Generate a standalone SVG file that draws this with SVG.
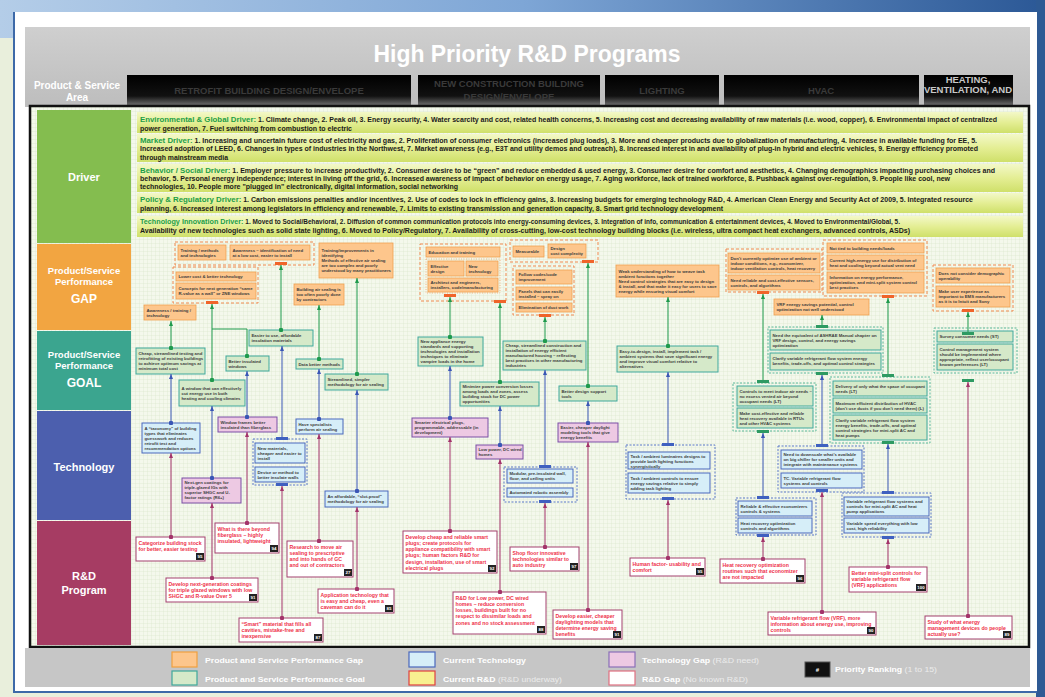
<svg xmlns="http://www.w3.org/2000/svg" width="1045" height="697" viewBox="0 0 1045 697">
<defs>
<style>
.n{font-family:"Liberation Sans",Arial,sans-serif;font-weight:bold;font-size:4.3px;fill:#3d3d3d}
.rt{font-family:"Liberation Sans",Arial,sans-serif;font-weight:bold;font-size:5.2px;fill:#ee3049}
.bt{font-family:"Liberation Sans",Arial,sans-serif;font-weight:bold;font-size:4.4px;fill:#fff;text-anchor:middle}
.dv{font-family:"Liberation Sans",Arial,sans-serif;font-weight:bold;font-size:6.8px;fill:#1a1a1a}
.dl{fill:#1d9e47;font-size:7.6px}
.lab{font-family:"Liberation Sans",Arial,sans-serif;font-weight:bold;fill:#fff;text-anchor:middle}
.hd{font-family:"Liberation Sans",Arial,sans-serif;font-weight:bold;font-size:9.5px;fill:#3a3a3a;text-anchor:middle}
.lg{font-family:"Liberation Sans",Arial,sans-serif;font-weight:bold;font-size:7.6px;fill:#fff}
.lgl{font-weight:normal;fill:#ececec}
.o{fill:#fdc68c;stroke:#f0a050;stroke-width:.8}
.g{fill:#d5e9c9;stroke:#3fa89c;stroke-width:1}
.t{fill:#d6eef8;stroke:#4a68bd;stroke-width:1}
.p{fill:#edc9e3;stroke:#7a4fa5;stroke-width:1}
.r{fill:#fff;stroke:#a3406e;stroke-width:1}
.og{fill:none;stroke:#f08a50;stroke-width:1;stroke-dasharray:3 2}
.oi{fill:none;stroke:#f4a870;stroke-width:.8;stroke-dasharray:1 1.5}
.gg{fill:none;stroke:#5ab89a;stroke-width:1;stroke-dasharray:2 1.5}
.bg{fill:none;stroke:#5a78c8;stroke-width:1;stroke-dasharray:2 1.5}
.ob{fill:#f0642a}
.gb{fill:#2e9a62}
.bb{fill:#3f60c0}
.badge{fill:#222}
.cg{fill:none;stroke:#1f9a4c;stroke-width:1;marker-start:url(#dG);marker-end:url(#aG)}
.cgn{fill:none;stroke:#1f9a4c;stroke-width:1;marker-end:url(#aG)}
.cgd{fill:none;stroke:#1f9a4c;stroke-width:1;marker-start:url(#dG)}
.cb{fill:none;stroke:#3a56b5;stroke-width:1;marker-start:url(#dB);marker-end:url(#aB)}
.cbn{fill:none;stroke:#3a56b5;stroke-width:1;marker-end:url(#aB)}
.cm{fill:none;stroke:#a3336a;stroke-width:1;marker-start:url(#dM);marker-end:url(#aM)}
</style>
<pattern id="grid" width="4" height="4" patternUnits="userSpaceOnUse"><rect width="4" height="4" fill="#f4f8ec"/><path d="M4 0V4M0 4H4" stroke="#d9e6c6" stroke-width="0.6"/></pattern>
<linearGradient id="topb" x1="0" x2="1" y1="0" y2="0"><stop offset="0" stop-color="#b4cde8"/><stop offset="0.5" stop-color="#7ea6d6"/><stop offset="1" stop-color="#2b5896"/></linearGradient>
<linearGradient id="cell" x1="0" x2="0" y1="0" y2="1"><stop offset="0" stop-color="#000"/><stop offset="0.7" stop-color="#111"/><stop offset="1" stop-color="#6a6a6a"/></linearGradient>
<linearGradient id="band" x1="0" x2="0" y1="0" y2="1"><stop offset="0" stop-color="#f3f8c8"/><stop offset="0.5" stop-color="#e4ee94"/><stop offset="1" stop-color="#cfe06a"/></linearGradient>
<linearGradient id="hdr" x1="0" x2="0" y1="0" y2="1"><stop offset="0" stop-color="#cfcfcf"/><stop offset="1" stop-color="#bdbdbd"/></linearGradient>
<marker id="aG" viewBox="0 0 10 8" refX="10" refY="4" markerWidth="5" markerHeight="4" orient="auto" markerUnits="userSpaceOnUse"><path d="M0,0L10,4L0,8z" fill="#1f9a4c"/></marker>
<marker id="aB" viewBox="0 0 10 8" refX="10" refY="4" markerWidth="5" markerHeight="4" orient="auto" markerUnits="userSpaceOnUse"><path d="M0,0L10,4L0,8z" fill="#3a56b5"/></marker>
<marker id="aM" viewBox="0 0 10 8" refX="10" refY="4" markerWidth="5" markerHeight="4" orient="auto" markerUnits="userSpaceOnUse"><path d="M0,0L10,4L0,8z" fill="#a3336a"/></marker>
<marker id="dG" viewBox="0 0 6 6" refX="3" refY="3" markerWidth="4.4" markerHeight="4.4" markerUnits="userSpaceOnUse"><circle cx="3" cy="3" r="3" fill="#1f9a4c"/></marker>
<marker id="dB" viewBox="0 0 6 6" refX="3" refY="3" markerWidth="4.4" markerHeight="4.4" markerUnits="userSpaceOnUse"><circle cx="3" cy="3" r="3" fill="#3a56b5"/></marker>
<marker id="dM" viewBox="0 0 6 6" refX="3" refY="3" markerWidth="4.4" markerHeight="4.4" markerUnits="userSpaceOnUse"><circle cx="3" cy="3" r="3" fill="#a3336a"/></marker>
</defs>

<!-- page background -->
<rect width="1045" height="697" fill="#e9efdc"/>
<rect x="0" y="0" width="1045" height="38" fill="url(#topb)"/>
<rect x="1036" y="0" width="9" height="697" fill="#2e5a94"/>
<rect x="14" y="12" width="1023" height="680" fill="#fff"/>
<path d="M14,12V692H1037" fill="none" stroke="#3d69a8" stroke-width="2"/>

<!-- header -->
<g id="header">
<rect x="25" y="27" width="1005" height="80" fill="url(#hdr)"/>
<text class="lab" x="527" y="62" font-size="23" textLength="307" lengthAdjust="spacingAndGlyphs">High Priority R&amp;D Programs</text>
<text class="lab" x="77" y="88.5" font-size="10">Product &amp; Service</text>
<text class="lab" x="77" y="101" font-size="10">Area</text>
<rect x="127" y="75" width="284" height="30" fill="url(#cell)"/>
<rect x="418" y="75" width="182" height="30" fill="url(#cell)"/>
<rect x="605" y="75" width="114" height="30" fill="url(#cell)"/>
<rect x="724" y="75" width="195" height="30" fill="url(#cell)"/>
<rect x="924" y="75" width="89" height="30" fill="url(#cell)"/>
<text class="hd" x="269" y="94">RETROFIT BUILDING DESIGN/ENVELOPE</text>
<text class="hd" x="509" y="87">NEW CONSTRUCTION BUILDING</text>
<text class="hd" x="509" y="100">DESIGN/ENVELOPE</text>
<text class="hd" x="662" y="94">LIGHTING</text>
<text class="hd" x="821" y="94">HVAC</text>
<text class="hd" x="968" y="83" style="fill:#c8c8c8" font-size="8.5">HEATING,</text>
<text class="hd" x="968" y="93" style="fill:#c8c8c8" font-size="8.5">VENTILATION, AND</text>
</g>

<!-- main frame -->
<rect x="30" y="106" width="999" height="541" fill="url(#grid)" stroke="#111" stroke-width="2.5"/>

<!-- row labels -->
<g id="row-driver"><rect x="37" y="110" width="94" height="133" fill="#84bd4f"/><text class="lab" x="84" y="181" font-size="11">Driver</text></g>
<g id="row-gap"><rect x="37" y="244" width="94" height="86" fill="#f2a541"/><text class="lab" x="84" y="273.5" font-size="9.5">Product/Service</text><text class="lab" x="84" y="284.5" font-size="9.5">Performance</text><text class="lab" x="84" y="302.5" font-size="12">GAP</text></g>
<g id="row-goal"><rect x="37" y="331" width="94" height="79" fill="#3ba58f"/><text class="lab" x="84" y="358" font-size="9.5">Product/Service</text><text class="lab" x="84" y="369" font-size="9.5">Performance</text><text class="lab" x="84" y="387" font-size="12">GOAL</text></g>
<g id="row-tech"><rect x="37" y="411" width="94" height="109" fill="#4c5fae"/><text class="lab" x="84" y="471" font-size="11">Technology</text></g>
<g id="row-rd"><rect x="37" y="521" width="94" height="124" fill="#a63c63"/><text class="lab" x="84" y="580" font-size="11">R&amp;D</text><text class="lab" x="84" y="594" font-size="11">Program</text></g>

<!-- drivers -->
<g id="driver-env"><rect x="137" y="112" width="886" height="21" fill="url(#band)"/>
<text class="dv" x="140" y="121.5" textLength="857" lengthAdjust="spacingAndGlyphs"><tspan class="dl">Environmental &amp; Global Driver:</tspan> 1. Climate change, 2. Peak oil, 3. Energy security, 4. Water scarcity and cost, related health concerns, 5. Increasing cost and decreasing availability of raw materials (i.e. wood, copper), 6. Environmental impact of centralized</text>
<text class="dv" x="140" y="130.8" textLength="212" lengthAdjust="spacingAndGlyphs">power generation, 7. Fuel switching from combustion to electric</text></g>
<g id="driver-market"><rect x="137" y="134" width="886" height="28" fill="url(#band)"/>
<text class="dv" x="140" y="142.5" textLength="837" lengthAdjust="spacingAndGlyphs"><tspan class="dl">Market Driver:</tspan> 1. Increasing and uncertain future cost of electricity and gas, 2. Proliferation of consumer electronics (increased plug loads), 3. More and cheaper products due to globalization of manufacturing, 4. Increase in available funding for EE, 5.</text>
<text class="dv" x="140" y="150.8" textLength="838" lengthAdjust="spacingAndGlyphs">Increased adoption of LEED, 6. Changes in types of industries in the Northwest, 7. Market awareness (e.g., E3T and utility demos and outreach), 8. Increased interest in and availability of plug-in hybrid and electric vehicles, 9. Energy efficiency promoted</text>
<text class="dv" x="140" y="159.6" textLength="88" lengthAdjust="spacingAndGlyphs">through mainstream media</text></g>
<g id="driver-behavior"><rect x="137" y="164" width="886" height="28" fill="url(#band)"/>
<text class="dv" x="140" y="172.8" textLength="855" lengthAdjust="spacingAndGlyphs"><tspan class="dl">Behavior / Social Driver:</tspan> 1. Employer pressure to increase productivity, 2. Consumer desire to be “green” and reduce embedded &amp; used energy, 3. Consumer desire for comfort and aesthetics, 4. Changing demographics impacting purchasing choices and</text>
<text class="dv" x="140" y="180.8" textLength="810" lengthAdjust="spacingAndGlyphs">behavior, 5. Personal energy independence; interest in living off the grid, 6. Increased awareness of impact of behavior on energy usage, 7. Aging workforce, lack of trained workforce, 8. Pushback against over-regulation, 9. People like cool, new</text>
<text class="dv" x="140" y="189" textLength="318" lengthAdjust="spacingAndGlyphs">technologies, 10. People more "plugged in" electronically, digital information, social networking</text></g>
<g id="driver-policy"><rect x="137" y="193" width="886" height="20" fill="url(#band)"/>
<text class="dv" x="140" y="202.2" textLength="833" lengthAdjust="spacingAndGlyphs"><tspan class="dl">Policy &amp; Regulatory Driver:</tspan> 1. Carbon emissions penalties and/or incentives, 2. Use of codes to lock in efficiency gains, 3. Increasing budgets for emerging technology R&amp;D, 4. American Clean Energy and Security Act of 2009, 5. Integrated resource</text>
<text class="dv" x="140" y="210.8" textLength="583" lengthAdjust="spacingAndGlyphs">planning, 6. Increased interest among legislators in efficiency and renewable, 7. Limits to existing transmission and generation capacity, 8. Smart grid technology development</text></g>
<g id="driver-tech"><rect x="137" y="216" width="886" height="21" fill="url(#band)"/>
<text class="dv" x="140" y="224.3" textLength="760" lengthAdjust="spacingAndGlyphs"><tspan class="dl">Technology Innovation Driver:</tspan> 1. Moved to Social/Behavioral, 2. Diffusion of common communication protocols into energy-consuming devices, 3. Integration of info, communication &amp; entertainment devices, 4. Moved to Environmental/Global, 5.</text>
<text class="dv" x="140" y="233.3" textLength="770" lengthAdjust="spacingAndGlyphs">Availability of new technologies such as solid state lighting, 6. Moved to Policy/Regulatory, 7. Availability of cross-cutting, low-cost technology building blocks (i.e. wireless, ultra compact heat exchangers, advanced controls, ASDs)</text></g>

<!-- GAP groups -->
<g id="grp-gap-1"><rect class="og" x="175" y="242" width="139" height="23"/>
<g id="gap1"><rect class="o" x="178" y="245" width="48" height="15"/><text class="n"><tspan x="180.5" y="251.5">Training / methods</tspan><tspan x="180.5" y="256.5">and technologies</tspan></text></g>
<g id="gap2"><rect class="o" x="230" y="245" width="80" height="15"/><text class="n"><tspan x="232.5" y="251.5">Awareness – identification of need</tspan><tspan x="232.5" y="256.5">at a low cost, easier to install</tspan></text></g>
<rect class="ob" x="275" y="262" width="12" height="3"/></g>
<g id="grp-gap-2"><rect class="og" x="173" y="267" width="85" height="36"/>
<g id="gap3"><rect class="o" x="176" y="272" width="80" height="9"/><text class="n"><tspan x="178.5" y="278">Lower cost &amp; better technology</tspan></text></g>
<g id="gap4"><rect class="o" x="176" y="283" width="80" height="16"/><text class="n"><tspan x="178.5" y="290">Concepts for next generation “same</tspan><tspan x="178.5" y="295">R-value as a wall” or ZNE windows</tspan></text></g>
<rect class="ob" x="206" y="301" width="12" height="3"/></g>
<g id="gap5"><rect class="o" x="144" y="305" width="52" height="15"/><text class="n"><tspan x="146.5" y="311.5">Awareness / training /</tspan><tspan x="146.5" y="316.5">technology</tspan></text></g>
<g id="gap6"><rect class="o" x="319" y="243" width="74" height="35"/><text class="n"><tspan x="321.5" y="252">Training/improvements in</tspan><tspan x="321.5" y="257">identifying</tspan><tspan x="321.5" y="262">Methods of effective air sealing</tspan><tspan x="321.5" y="267">are too complex and poorly</tspan><tspan x="321.5" y="272">understood by many practitioners</tspan></text></g>
<g id="gap7"><rect class="o" x="294" y="284" width="50" height="21"/><text class="n"><tspan x="296.5" y="291">Building air sealing is</tspan><tspan x="296.5" y="296">too often poorly done</tspan><tspan x="296.5" y="301">by contractors</tspan></text></g>
<g id="grp-gap-3"><rect class="og" x="420" y="244" width="86" height="57"/><rect class="oi" x="426" y="259" width="74" height="34"/>
<g id="gap8"><rect class="o" x="426" y="247" width="74" height="10"/><text class="n"><tspan x="428.5" y="253.5">Education and training</tspan></text></g>
<g id="gap9"><rect class="o" x="428" y="261" width="36" height="15"/><text class="n"><tspan x="430.5" y="267.5">Effective</tspan><tspan x="430.5" y="272.5">design</tspan></text></g>
<g id="gap10"><rect class="o" x="466" y="261" width="32" height="15"/><text class="n"><tspan x="468.5" y="267.5">New</tspan><tspan x="468.5" y="272.5">technology</tspan></text></g>
<g id="gap11"><rect class="o" x="428" y="278" width="70" height="14"/><text class="n"><tspan x="430.5" y="284">Architect and engineers,</tspan><tspan x="430.5" y="289">installers, code/manufacturing</tspan></text></g>
<rect class="ob" x="444" y="294" width="12" height="3"/><rect class="ob" x="494" y="300" width="12" height="3"/></g>
<g id="grp-gap-4"><rect class="og" x="510" y="240" width="88" height="22"/>
<g id="gap12"><rect class="o" x="513" y="246" width="31" height="11"/><text class="n"><tspan x="515.5" y="253">Measurable</tspan></text></g>
<g id="gap13"><rect class="o" x="548" y="244" width="38" height="14"/><text class="n"><tspan x="550.5" y="250">Design</tspan><tspan x="550.5" y="255">cost complexity</tspan></text></g>
<rect class="ob" x="582" y="260" width="12" height="3"/></g>
<g id="grp-gap-5"><rect class="og" x="513" y="266" width="61" height="49"/>
<g id="gap14"><rect class="o" x="516" y="270" width="56" height="14"/><text class="n"><tspan x="518.5" y="276">Follow codes/code</tspan><tspan x="518.5" y="281">improvement</tspan></text></g>
<g id="gap15"><rect class="o" x="516" y="287" width="56" height="13"/><text class="n"><tspan x="518.5" y="292.5">Panels that can easily</tspan><tspan x="518.5" y="297.5">installed – spray on</tspan></text></g>
<g id="gap16"><rect class="o" x="516" y="303" width="56" height="9"/><text class="n"><tspan x="518.5" y="309">Elimination of duct work</tspan></text></g>
<rect class="ob" x="539" y="314" width="12" height="3"/></g>
<g id="gap17"><rect class="o" x="616" y="265" width="103" height="32"/><text class="n"><tspan x="618.5" y="272.5">Weak understanding of how to weave task</tspan><tspan x="618.5" y="277.5">ambient functions together</tspan><tspan x="618.5" y="282.5">Need control strategies that are easy to design</tspan><tspan x="618.5" y="287.5">&amp; install, and that make it easy for users to save</tspan><tspan x="618.5" y="292.5">energy while ensuring visual comfort</tspan></text></g>
<g id="grp-gap-6"><rect class="og" x="726" y="249" width="96" height="43"/>
<g id="gap18"><rect class="o" x="728" y="253" width="92" height="20"/><text class="n"><tspan x="730.5" y="259.5">Don’t currently optimize use of ambient or</tspan><tspan x="730.5" y="264.5">indoor conditions, e.g., economizer,</tspan><tspan x="730.5" y="269.5">indoor ventilation controls, heat recovery</tspan></text></g>
<g id="gap19"><rect class="o" x="728" y="275" width="92" height="15"/><text class="n"><tspan x="730.5" y="281.5">Need reliable and cost-effective sensors,</tspan><tspan x="730.5" y="286.5">controls, and algorithms</tspan></text></g>
<rect class="ob" x="757" y="291" width="12" height="3"/></g>
<g id="gap20"><rect class="o" x="774" y="299" width="95" height="16"/><text class="n"><tspan x="776.5" y="306">VRF energy savings potential, control</tspan><tspan x="776.5" y="311">optimization not well understood</tspan></text></g>
<g id="grp-gap-7"><rect class="og" x="823" y="240" width="104" height="56"/>
<g id="gap21"><rect class="o" x="827" y="243" width="97" height="10"/><text class="n"><tspan x="829.5" y="249.5">Not tied to building needs/loads</tspan></text></g>
<g id="gap22"><rect class="o" x="827" y="255" width="97" height="15"/><text class="n"><tspan x="829.5" y="261.5">Current high-energy use for distribution of</tspan><tspan x="829.5" y="266.5">heat and cooling beyond actual vent need</tspan></text></g>
<g id="gap23"><rect class="o" x="827" y="272" width="97" height="21"/><text class="n"><tspan x="829.5" y="279">Information on energy performance,</tspan><tspan x="829.5" y="284">optimization, and mini-split system control</tspan><tspan x="829.5" y="289">best practices</tspan></text></g>
<rect class="ob" x="882" y="295" width="12" height="3"/></g>
<g id="grp-gap-8"><rect class="og" x="933" y="265" width="80" height="46"/>
<g id="gap24"><rect class="o" x="936" y="268" width="74" height="15"/><text class="n"><tspan x="938.5" y="274.5">Does not consider demographic</tspan><tspan x="938.5" y="279.5">operability</tspan></text></g>
<g id="gap25"><rect class="o" x="936" y="286" width="74" height="21"/><text class="n"><tspan x="938.5" y="293">Make user experience as</tspan><tspan x="938.5" y="298">important to EMS manufacturers</tspan><tspan x="938.5" y="303">as it is to Intuit and Sony</tspan></text></g>
<rect class="ob" x="962" y="309" width="12" height="3"/></g>

<!-- GOAL -->
<g id="goal1"><rect class="g" x="136" y="348" width="69" height="26"/><text class="n"><tspan x="138.5" y="355">Cheap, streamlined testing and</tspan><tspan x="138.5" y="360">retrofitting of existing buildings</tspan><tspan x="138.5" y="365">to achieve optimum savings at</tspan><tspan x="138.5" y="370">minimum total cost</tspan></text></g>
<g id="goal2"><rect class="g" x="179" y="380" width="66" height="26"/><text class="n"><tspan x="181.5" y="389.5">A window that can effectively</tspan><tspan x="181.5" y="394.5">cut energy use in both</tspan><tspan x="181.5" y="399.5">heating and cooling climates</tspan></text></g>
<g id="goal3"><rect class="g" x="226" y="356" width="43" height="15"/><text class="n"><tspan x="228.5" y="362.5">Better insulated</tspan><tspan x="228.5" y="367.5">windows</tspan></text></g>
<g id="goal4"><rect class="g" x="249" y="330" width="64" height="16"/><text class="n"><tspan x="251.5" y="337">Easier to use, affordable</tspan><tspan x="251.5" y="342">insulation materials</tspan></text></g>
<g id="goal5"><rect class="g" x="296" y="359" width="47" height="10"/><text class="n"><tspan x="298.5" y="365.5">Data better methods</tspan></text></g>
<g id="goal6"><rect class="g" x="325" y="374" width="63" height="16"/><text class="n"><tspan x="327.5" y="381">Streamlined, simpler</tspan><tspan x="327.5" y="386">methodology for air sealing</tspan></text></g>
<g id="goal7"><rect class="g" x="418" y="337" width="65" height="29"/><text class="n"><tspan x="420.5" y="343">New appliance energy</tspan><tspan x="420.5" y="348">standards and supporting</tspan><tspan x="420.5" y="353">technologies and installation</tspan><tspan x="420.5" y="358">techniques to eliminate</tspan><tspan x="420.5" y="363">vampire loads in the home</tspan></text></g>
<g id="goal8"><rect class="g" x="460" y="382" width="79" height="24"/><text class="n"><tspan x="462.5" y="388">Minimize power conversion losses</tspan><tspan x="462.5" y="393">among loads and zones, assess</tspan><tspan x="462.5" y="398">building stock for DC power</tspan><tspan x="462.5" y="403">opportunities</tspan></text></g>
<g id="goal9"><rect class="g" x="503" y="341" width="83" height="29"/><text class="n"><tspan x="505.5" y="347">Cheap, streamlined construction and</tspan><tspan x="505.5" y="352">installation of energy efficient</tspan><tspan x="505.5" y="357">manufactured housing – reflecting</tspan><tspan x="505.5" y="362">best practices in other manufacturing</tspan><tspan x="505.5" y="367">industries</tspan></text></g>
<g id="goal10"><rect class="g" x="559" y="386" width="58" height="15"/><text class="n"><tspan x="561.5" y="392.5">Better design support</tspan><tspan x="561.5" y="397.5">tools</tspan></text></g>
<g id="goal11"><rect class="g" x="617" y="346" width="101" height="26"/><text class="n"><tspan x="619.5" y="353">Easy-to-design, install, implement task /</tspan><tspan x="619.5" y="358">ambient systems that save significant energy</tspan><tspan x="619.5" y="363">and improve visual comfort relative to</tspan><tspan x="619.5" y="368">alternatives</tspan></text></g>
<g id="grp-goal-1"><rect class="gg" x="733" y="383" width="83" height="48"/>
<g id="goal12"><rect class="g" x="737" y="386" width="76" height="20"/><text class="n"><tspan x="739.5" y="392.5">Controls to meet indoor air needs –</tspan><tspan x="739.5" y="397.5">no excess vented air beyond</tspan><tspan x="739.5" y="402.5">occupant needs (LT)</tspan></text></g>
<g id="goal13"><rect class="g" x="737" y="408" width="76" height="20"/><text class="n"><tspan x="739.5" y="414.5">Make cost-effective and reliable</tspan><tspan x="739.5" y="419.5">heat recovery available in RTUs</tspan><tspan x="739.5" y="424.5">and other HVAC systems</tspan></text></g>
<rect class="gb" x="757" y="380" width="12" height="3"/><rect class="gb" x="757" y="430" width="12" height="3"/></g>
<g id="grp-goal-2"><rect class="gg" x="768" y="327" width="115" height="46"/>
<g id="goal14"><rect class="g" x="770" y="330" width="111" height="20"/><text class="n"><tspan x="772.5" y="336.5">Need the equivalent of ASHRAE Manual chapter on</tspan><tspan x="772.5" y="341.5">VRF design, control, and energy savings</tspan><tspan x="772.5" y="346.5">optimization</tspan></text></g>
<g id="goal15"><rect class="g" x="770" y="353" width="111" height="17"/><text class="n"><tspan x="772.5" y="360">Clarify variable refrigerant flow system energy</tspan><tspan x="772.5" y="365">benefits, trade-offs, and optimal control strategies</tspan></text></g>
<rect class="gb" x="816" y="325" width="12" height="3"/><rect class="gb" x="816" y="372" width="12" height="3"/></g>
<g id="grp-goal-3"><rect class="gg" x="830" y="377" width="100" height="66"/>
<g id="goal16"><rect class="g" x="833" y="381" width="94" height="15"/><text class="n"><tspan x="835.5" y="387.5">Delivery of only what the space of occupant</tspan><tspan x="835.5" y="392.5">needs (LT)</tspan></text></g>
<g id="goal17"><rect class="g" x="833" y="398" width="94" height="15"/><text class="n"><tspan x="835.5" y="404.5">Maximum efficient distribution of HVAC</tspan><tspan x="835.5" y="409.5">(don’t use ducts if you don’t need them) (L)</tspan></text></g>
<g id="goal18"><rect class="g" x="833" y="415" width="94" height="25"/><text class="n"><tspan x="835.5" y="421.5">Clarify variable refrigerant flow system</tspan><tspan x="835.5" y="426.5">energy benefits, trade-offs, and optimal</tspan><tspan x="835.5" y="431.5">control strategies for mini-split AC and</tspan><tspan x="835.5" y="436.5">heat pumps</tspan></text></g>
<rect class="gb" x="882" y="374" width="12" height="3"/><rect class="gb" x="882" y="441" width="12" height="3"/></g>
<g id="grp-goal-4"><rect class="gg" x="934" y="328" width="83" height="45"/>
<g id="goal19"><rect class="g" x="937" y="331" width="76" height="11"/><text class="n"><tspan x="939.5" y="338">Survey consumer needs (ST)</tspan></text></g>
<g id="goal20"><rect class="g" x="937" y="344" width="76" height="26"/><text class="n"><tspan x="939.5" y="351">Control management system</tspan><tspan x="939.5" y="356">should be implemented where</tspan><tspan x="939.5" y="361">appropriate, reflect user/occupant</tspan><tspan x="939.5" y="366">known preferences (LT)</tspan></text></g>
<rect class="gb" x="962" y="332" width="12" height="3"/></g>
<rect id="goal-bar-lone" class="gb" x="962" y="379" width="12" height="3"/>

<!-- TECHNOLOGY -->
<g id="tech1"><rect class="t" x="142" y="423" width="58" height="30"/><text class="n"><tspan x="144.5" y="429.5">A “taxonomy” of building</tspan><tspan x="144.5" y="434.5">types that eliminates</tspan><tspan x="144.5" y="439.5">guesswork and reduces</tspan><tspan x="144.5" y="444.5">retrofit test and</tspan><tspan x="144.5" y="449.5">recommendation options</tspan></text></g>
<g id="tech2"><rect class="p" x="218" y="417" width="59" height="15"/><text class="n"><tspan x="220.5" y="423.5">Window frames better</tspan><tspan x="220.5" y="428.5">insulated than fiberglass</tspan></text></g>
<g id="tech3"><rect class="t" x="296" y="419" width="47" height="15"/><text class="n"><tspan x="298.5" y="425.5">Have specialists</tspan><tspan x="298.5" y="430.5">perform air sealing</tspan></text></g>
<g id="grp-tech-1"><rect class="bg" x="253" y="439" width="54" height="46"/>
<g id="tech4"><rect class="t" x="255" y="443" width="50" height="20"/><text class="n"><tspan x="257.5" y="449.5">New materials,</tspan><tspan x="257.5" y="454.5">cheaper and easier to</tspan><tspan x="257.5" y="459.5">install</tspan></text></g>
<g id="tech5"><rect class="t" x="255" y="467" width="50" height="15"/><text class="n"><tspan x="257.5" y="473.5">Device or method to</tspan><tspan x="257.5" y="478.5">better insulate walls</tspan></text></g>
<rect class="bb" x="276" y="437" width="12" height="3"/><rect class="bb" x="276" y="483" width="12" height="3"/></g>
<g id="tech6"><rect class="p" x="182" y="478" width="59" height="25"/><text class="n"><tspan x="184.5" y="483.5">Next-gen coatings for</tspan><tspan x="184.5" y="488.5">triple-glazed IGs with</tspan><tspan x="184.5" y="493.5">superior SHGC and U-</tspan><tspan x="184.5" y="498.5">factor ratings (R6+)</tspan></text></g>
<g id="tech7"><rect class="t" x="325" y="491" width="63" height="16"/><text class="n"><tspan x="327.5" y="498">An affordable, “slot-proof”</tspan><tspan x="327.5" y="503">methodology for air sealing</tspan></text></g>
<g id="tech8"><rect class="p" x="412" y="418" width="76" height="19"/><text class="n"><tspan x="414.5" y="424">Smarter electrical plugs,</tspan><tspan x="414.5" y="429">programmable, addressable (in</tspan><tspan x="414.5" y="434">development)</tspan></text></g>
<g id="tech9"><rect class="p" x="558" y="423" width="60" height="19"/><text class="n"><tspan x="560.5" y="429">Easier, cheaper daylight</tspan><tspan x="560.5" y="434">modeling tools that give</tspan><tspan x="560.5" y="439">energy benefits</tspan></text></g>
<g id="tech10"><rect class="p" x="476" y="445" width="47" height="14"/><text class="n"><tspan x="478.5" y="451">Low power, DC wired</tspan><tspan x="478.5" y="456">homes</tspan></text></g>
<g id="grp-tech-2"><rect class="bg" x="504" y="467" width="73" height="35"/>
<g id="tech11"><rect class="t" x="507" y="469" width="66" height="14"/><text class="n"><tspan x="509.5" y="475">Modular, pre-insulated wall,</tspan><tspan x="509.5" y="480">floor, and ceiling units</tspan></text></g>
<g id="tech12"><rect class="t" x="507" y="488" width="66" height="9"/><text class="n"><tspan x="509.5" y="494">Automated robotic assembly</tspan></text></g>
<rect class="bb" x="539" y="465" width="12" height="3"/><rect class="bb" x="539" y="500" width="12" height="3"/></g>
<g id="grp-tech-3"><rect class="bg" x="626" y="445" width="89" height="54"/>
<g id="tech13"><rect class="t" x="628" y="452" width="82" height="17"/><text class="n"><tspan x="630.5" y="457.5">Task / ambient luminaires designs to</tspan><tspan x="630.5" y="462.5">provide both lighting functions</tspan><tspan x="630.5" y="467.5">synergistically</tspan></text></g>
<g id="tech14"><rect class="t" x="628" y="473" width="82" height="20"/><text class="n"><tspan x="630.5" y="479.5">Task / ambient controls to ensure</tspan><tspan x="630.5" y="484.5">energy savings relative to simply</tspan><tspan x="630.5" y="489.5">adding task lighting</tspan></text></g>
<rect class="bb" x="662" y="443" width="12" height="3"/><rect class="bb" x="662" y="497" width="12" height="3"/></g>
<g id="grp-tech-4"><rect class="bg" x="736" y="498" width="80" height="37"/>
<g id="tech15"><rect class="t" x="738" y="501" width="74" height="15"/><text class="n"><tspan x="740.5" y="507.5">Reliable &amp; effective economizers</tspan><tspan x="740.5" y="512.5">controls &amp; systems</tspan></text></g>
<g id="tech16"><rect class="t" x="738" y="518" width="74" height="15"/><text class="n"><tspan x="740.5" y="524.5">Heat recovery optimization</tspan><tspan x="740.5" y="529.5">controls and algorithms</tspan></text></g>
<rect class="bb" x="757" y="496" width="12" height="3"/><rect class="bb" x="757" y="534" width="12" height="3"/></g>
<g id="grp-tech-5"><rect class="bg" x="778" y="446" width="86" height="46"/>
<g id="tech17"><rect class="t" x="781" y="450" width="81" height="19"/><text class="n"><tspan x="783.5" y="456">Need to downscale what’s available</tspan><tspan x="783.5" y="461">on big chiller for smaller units and</tspan><tspan x="783.5" y="466">integrate with maintenance systems</tspan></text></g>
<g id="tech18"><rect class="t" x="781" y="473" width="81" height="15"/><text class="n"><tspan x="783.5" y="479.5">TC. Variable refrigerant flow</tspan><tspan x="783.5" y="484.5">systems and controls</tspan></text></g>
<rect class="bb" x="816" y="444" width="12" height="3"/><rect class="bb" x="816" y="489" width="12" height="3"/></g>
<g id="grp-tech-6"><rect class="bg" x="842" y="493" width="89" height="44"/>
<g id="tech19"><rect class="t" x="844" y="497" width="85" height="19"/><text class="n"><tspan x="846.5" y="503">Variable refrigerant flow systems and</tspan><tspan x="846.5" y="508">controls for mini-split AC and heat</tspan><tspan x="846.5" y="513">pump applications</tspan></text></g>
<g id="tech20"><rect class="t" x="844" y="518" width="85" height="15"/><text class="n"><tspan x="846.5" y="524.5">Variable speed everything with low</tspan><tspan x="846.5" y="529.5">cost, high reliability</tspan></text></g>
<rect class="bb" x="882" y="491" width="12" height="3"/><rect class="bb" x="882" y="536" width="12" height="3"/></g>

<!-- R&D -->
<g id="rd1"><rect class="r" x="136" y="537" width="69" height="24"/><text class="rt"><tspan x="138.5" y="544.5">Categorize building stock</tspan><tspan x="138.5" y="550.7">for better, easier testing</tspan></text><rect class="badge" x="196" y="553" width="8" height="7"/><text class="bt" x="200" y="558.2">95</text></g>
<g id="rd2"><rect class="r" x="215" y="523" width="64" height="30"/><text class="rt"><tspan x="217.5" y="530.5">What is there beyond</tspan><tspan x="217.5" y="536.7">fiberglass – highly</tspan><tspan x="217.5" y="542.9">insulated, lightweight</tspan></text><rect class="badge" x="270" y="545" width="8" height="7"/><text class="bt" x="274" y="550.2">94</text></g>
<g id="rd3"><rect class="r" x="166" y="578" width="92" height="24"/><text class="rt"><tspan x="168.5" y="585.5">Develop next-generation coatings</tspan><tspan x="168.5" y="591.7">for triple glazed windows with low</tspan><tspan x="168.5" y="597.9">SHGC and R-value Over 5</tspan></text><rect class="badge" x="249" y="594" width="8" height="7"/><text class="bt" x="253" y="599.2">91</text></g>
<g id="rd4"><rect class="r" x="287" y="541" width="66" height="36"/><text class="rt"><tspan x="289.5" y="548.8">Research to move air</tspan><tspan x="289.5" y="555">sealing to prescriptive</tspan><tspan x="289.5" y="561.2">and into hands of GC</tspan><tspan x="289.5" y="567.4">and out of contractors</tspan></text><rect class="badge" x="344" y="569" width="8" height="7"/><text class="bt" x="348" y="574.2">27</text></g>
<g id="rd5"><rect class="r" x="239" y="618" width="84" height="24"/><text class="rt"><tspan x="241.5" y="625.5">“Smart” material that fills all</tspan><tspan x="241.5" y="631.7">cavities, mistake-free and</tspan><tspan x="241.5" y="637.9">inexpensive</tspan></text><rect class="badge" x="314" y="634" width="8" height="7"/><text class="bt" x="318" y="639.2">87</text></g>
<g id="rd6"><rect class="r" x="318" y="589" width="76" height="24"/><text class="rt"><tspan x="320.5" y="596.5">Application technology that</tspan><tspan x="320.5" y="602.7">is easy and cheap, even a</tspan><tspan x="320.5" y="608.9">caveman can do it</tspan></text><rect class="badge" x="385" y="605" width="8" height="7"/><text class="bt" x="389" y="610.2">85</text></g>
<g id="rd7"><rect class="r" x="403" y="531" width="94" height="42"/><text class="rt"><tspan x="405.5" y="538.8">Develop cheap and reliable smart</tspan><tspan x="405.5" y="545">plugs; create protocols for</tspan><tspan x="405.5" y="551.2">appliance compatibility with smart</tspan><tspan x="405.5" y="557.4">plugs; human factors R&amp;D for</tspan><tspan x="405.5" y="563.6">design, installation, use of smart</tspan><tspan x="405.5" y="569.8">electrical plugs</tspan></text><rect class="badge" x="488" y="565" width="8" height="7"/><text class="bt" x="492" y="570.2">92</text></g>
<g id="rd8"><rect class="r" x="453" y="592" width="93" height="42"/><text class="rt"><tspan x="455.5" y="599.8">R&amp;D for  Low power, DC wired</tspan><tspan x="455.5" y="606">homes – reduce conversion</tspan><tspan x="455.5" y="612.2">losses, buildings built for no</tspan><tspan x="455.5" y="618.4">respect to dissimilar loads and</tspan><tspan x="455.5" y="624.6">zones and no stock assessment</tspan></text><rect class="badge" x="537" y="626" width="8" height="7"/><text class="bt" x="541" y="631.2">88</text></g>
<g id="rd9"><rect class="r" x="510" y="547" width="69" height="24"/><text class="rt"><tspan x="512.5" y="554.5">Shop floor innovative</tspan><tspan x="512.5" y="560.7">technologies similar to</tspan><tspan x="512.5" y="566.9">auto industry</tspan></text><rect class="badge" x="570" y="563" width="8" height="7"/><text class="bt" x="574" y="568.2">97</text></g>
<g id="rd10"><rect class="r" x="553" y="610" width="69" height="29"/><text class="rt"><tspan x="555.5" y="617.5">Develop easier, cheaper</tspan><tspan x="555.5" y="623.7">daylighting models that</tspan><tspan x="555.5" y="629.9">determine energy saving</tspan><tspan x="555.5" y="636.1">benefits</tspan></text><rect class="badge" x="613" y="631" width="8" height="7"/><text class="bt" x="617" y="636.2">91</text></g>
<g id="rd11"><rect class="r" x="630" y="558" width="75" height="18"/><text class="rt"><tspan x="632.5" y="565.5">Human factor- usability and</tspan><tspan x="632.5" y="571.7">comfort</tspan></text><rect class="badge" x="696" y="568" width="8" height="7"/><text class="bt" x="700" y="573.2">95</text></g>
<g id="rd12"><rect class="r" x="720" y="559" width="85" height="24"/><text class="rt"><tspan x="722.5" y="566.5">Heat recovery optimization</tspan><tspan x="722.5" y="572.7">routines such that economizer</tspan><tspan x="722.5" y="578.9">are not impacted</tspan></text><rect class="badge" x="796" y="575" width="8" height="7"/><text class="bt" x="800" y="580.2">96</text></g>
<g id="rd13"><rect class="r" x="768" y="612" width="108" height="23"/><text class="rt"><tspan x="770.5" y="619.5">Variable refrigerant flow (VRF), more</tspan><tspan x="770.5" y="625.7">information about energy use, improving</tspan><tspan x="770.5" y="631.9">controls</tspan></text><rect class="badge" x="867" y="627" width="8" height="7"/><text class="bt" x="871" y="632.2">90</text></g>
<g id="rd14"><rect class="r" x="849" y="567" width="78" height="25"/><text class="rt"><tspan x="851.5" y="574.5">Better mini-split controls for</tspan><tspan x="851.5" y="580.7">variable refrigerant flow</tspan><tspan x="851.5" y="586.9">(VRF) applications</tspan></text><rect class="badge" x="916" y="584" width="10" height="7"/><text class="bt" x="921" y="589.2">100</text></g>
<g id="rd15"><rect class="r" x="925" y="616" width="87" height="23"/><text class="rt"><tspan x="927.5" y="623.5">Study of what energy</tspan><tspan x="927.5" y="629.7">management devices do people</tspan><tspan x="927.5" y="635.9">actually use?</tspan></text><rect class="badge" x="1003" y="631" width="8" height="7"/><text class="bt" x="1007" y="636.2">89</text></g>

<!-- connectors -->
<g id="connectors">
<path class="cg" d="M171,348V321"/>
<path class="cg" d="M212,380V304"/>
<path class="cgd" d="M247,356V329H212"/>
<path class="cg" d="M281,330V265"/>
<path class="cg" d="M319,359V305"/>
<path class="cg" d="M357,374V278"/>
<path class="cg" d="M450,337V297"/>
<path class="cg" d="M500,382V303"/>
<path class="cg" d="M545,341V317"/>
<path class="cg" d="M588,386V263"/>
<path class="cg" d="M668,346V297"/>
<path class="cgn" d="M763,380V294"/>
<path class="cgn" d="M822,325V315"/>
<path class="cgn" d="M888,374V298"/>
<path class="cgn" d="M968,332V312"/>
<path class="cb" d="M171,423V374"/>
<path class="cb" d="M212,478V406"/>
<path class="cb" d="M247,417V371"/>
<path class="cbn" d="M282,437V346"/>
<path class="cb" d="M319,419V369"/>
<path class="cb" d="M357,491V390"/>
<path class="cb" d="M450,418V366"/>
<path class="cb" d="M500,445V406"/>
<path class="cbn" d="M545,465V370"/>
<path class="cb" d="M588,423V401"/>
<path class="cbn" d="M668,443V372"/>
<path class="cbn" d="M763,496V433"/>
<path class="cbn" d="M822,444V375"/>
<path class="cbn" d="M888,491V444"/>
<path class="cm" d="M171,537V453"/>
<path class="cm" d="M212,578V503"/>
<path class="cm" d="M247,523V432"/>
<path class="cm" d="M282,618V486"/>
<path class="cm" d="M319,541V434"/>
<path class="cm" d="M357,589V507"/>
<path class="cm" d="M450,531V437"/>
<path class="cm" d="M500,592V459"/>
<path class="cm" d="M545,547V503"/>
<path class="cm" d="M588,610V442"/>
<path class="cm" d="M668,558V500"/>
<path class="cm" d="M763,559V537"/>
<path class="cm" d="M822,612V492"/>
<path class="cm" d="M888,567V539"/>
<path class="cm" d="M968,616V382"/>
</g>

<!-- legend -->
<g id="legend">
<rect x="25" y="648" width="1005" height="39" fill="#c6c6c6"/>
<rect x="172" y="652" width="25" height="15" fill="#fdc68c" stroke="#f0a040" stroke-width="1.2"/>
<text class="lg" x="205" y="663" textLength="158" lengthAdjust="spacingAndGlyphs">Product and Service Performance Gap</text>
<rect x="172" y="671" width="25" height="14" fill="#d5e9c9" stroke="#3fa89c" stroke-width="1.2"/>
<text class="lg" x="205" y="682" textLength="160" lengthAdjust="spacingAndGlyphs">Product and Service Performance Goal</text>
<rect x="409" y="652" width="26" height="15" fill="#d6eef8" stroke="#4a68bd" stroke-width="1.2"/>
<text class="lg" x="443" y="663" textLength="83" lengthAdjust="spacingAndGlyphs">Current Technology</text>
<rect x="409" y="671" width="26" height="14" fill="#f8f090" stroke="#e04040" stroke-width="1.2"/>
<text class="lg" x="443" y="682" textLength="119" lengthAdjust="spacingAndGlyphs">Current R&amp;D <tspan class="lgl">(R&amp;D underway)</tspan></text>
<rect x="609" y="652" width="26" height="15" fill="#edc9e3" stroke="#8a70b8" stroke-width="1.2"/>
<text class="lg" x="642" y="663" textLength="117" lengthAdjust="spacingAndGlyphs">Technology Gap <tspan class="lgl">(R&amp;D need)</tspan></text>
<rect x="609" y="671" width="26" height="14" fill="#fff" stroke="#e07080" stroke-width="1.2"/>
<text class="lg" x="642" y="682" textLength="106" lengthAdjust="spacingAndGlyphs">R&amp;D Gap <tspan class="lgl">(No known R&amp;D)</tspan></text>
<rect x="805" y="662" width="25" height="15" fill="#111" stroke="#555" stroke-width="1"/>
<text class="lab" x="817.5" y="672" font-size="6">#</text>
<text class="lg" x="835" y="672" textLength="102" lengthAdjust="spacingAndGlyphs">Priority Ranking <tspan class="lgl">(1 to 15)</tspan></text>
</g>
</svg>
